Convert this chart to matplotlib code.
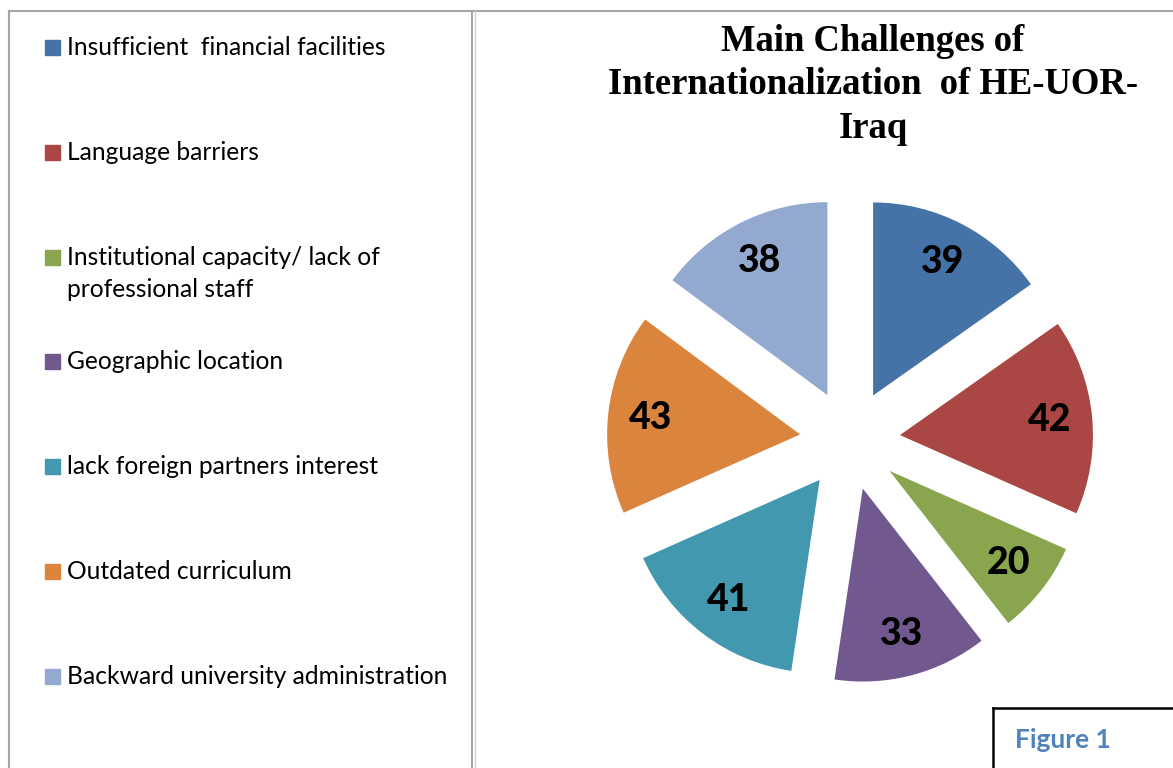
# pie chart of the main internationalization challenges, with a side legend panel

import matplotlib.pyplot as plt
from matplotlib.lines import Line2D
from matplotlib.patches import Rectangle

W, H = 1173, 768

labels = [
    "Insufficient  financial facilities",
    "Language barriers",
    "Institutional capacity/ lack of\nprofessional staff",
    "Geographic location",
    "lack foreign partners interest",
    "Outdated curriculum",
    "Backward university administration",
]
values = [39, 42, 20, 33, 41, 43, 38]
colors = ["#4572A7", "#AA4643", "#89A54E", "#71588F", "#4198AF", "#DB843D", "#93A9CF"]
title = ["Main Challenges of", "Internationalization  of HE-UOR-", "Iraq"]


def fx(x):
    return x / W


def fy(y):
    return 1 - y / H


fig = plt.figure(figsize=(W / 100, H / 100), dpi=100)

# panel borders
gray = "#a6a6a6"
fig.add_artist(Line2D([fx(9), fx(9)], [fy(11), fy(768)], color=gray, lw=1.5))
fig.add_artist(Line2D([fx(9), fx(1173)], [fy(11), fy(11)], color=gray, lw=1.5))
fig.add_artist(Line2D([fx(472), fx(472)], [fy(11), fy(768)], color=gray, lw=1.5))
fig.add_artist(Line2D([fx(475), fx(475)], [fy(11), fy(768)], color="#d0d0d0", lw=1.0))

# legend panel
for i, (lab, col) in enumerate(zip(labels, colors)):
    base = 55 + i * 104.8
    fig.add_artist(Rectangle((fx(45), fy(base)), 15 / W, 15 / H, color=col,
                             transform=fig.transFigure))
    for j, line in enumerate(lab.split("\n")):
        fig.text(fx(67), fy(base + j * 32), line, fontsize=17.7, family="Lato",
                 va="baseline", ha="left")

# pie
cx, cy, r = 850, 440, 193
ax = fig.add_axes([fx(cx - 1.5 * r), fy(cy + 1.5 * r), 3 * r / W, 3 * r / H])
total = sum(values)
wedges, texts, autotexts = ax.pie(
    values, colors=colors, startangle=90, counterclock=False,
    explode=[0.26] * len(values), pctdistance=0.78,
    autopct=lambda p: "%d" % round(p * total / 100),
    wedgeprops=dict(linewidth=0),
    textprops=dict(fontsize=27, fontweight="black", family="Lato", color="black"),
)
ax.set_xlim(-1.5, 1.5)
ax.set_ylim(-1.5, 1.5)
ax.set_aspect("equal")
ax.axis("off")

for j, line in enumerate(title):
    fig.text(fx(873), fy(51 + j * 43.5), line, family="Liberation Serif",
             fontweight="bold", fontsize=26.4, ha="center", va="baseline")

# figure caption box
fig.add_artist(Line2D([fx(993), fx(993)], [fy(708), fy(768)], color="black", lw=1.8))
fig.add_artist(Line2D([fx(993), fx(1173)], [fy(708), fy(708)], color="black", lw=1.8))
fig.text(fx(1015), fy(748), "Figure 1", family="Lato", fontweight="bold", fontsize=19,
         color="#4F81BD", ha="left", va="baseline")

fig.savefig("out.png", dpi=100)
